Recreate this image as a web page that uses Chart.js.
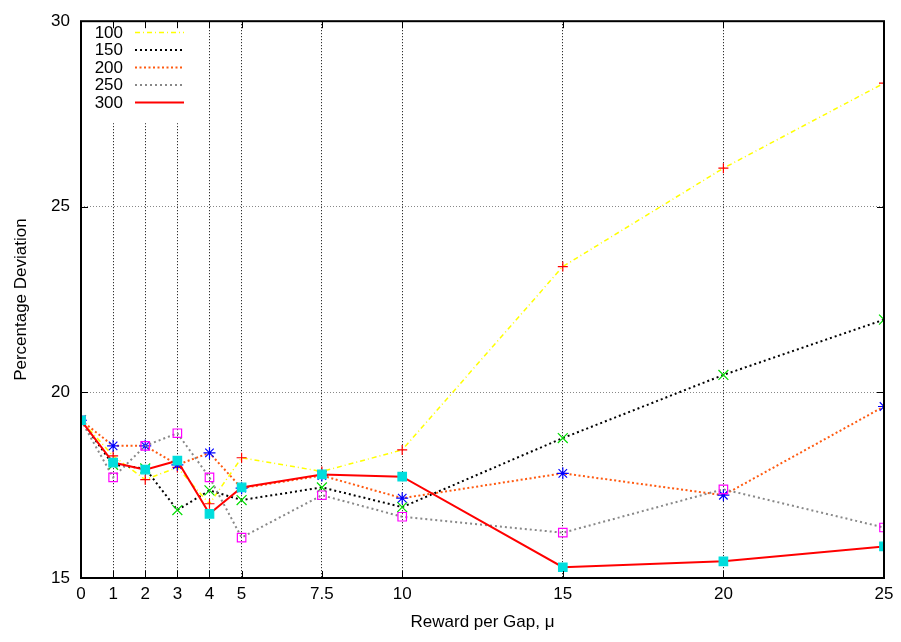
<!DOCTYPE html>
<html>
<head>
<meta charset="utf-8">
<script src="https://cdn.jsdelivr.net/npm/chart.js@4.4.1/dist/chart.umd.min.js"></script>
<style>
  html, body { margin: 0; padding: 0; background: #fff; }
  #wrap { width: 901px; height: 642px; }
</style>
</head>
<body>
<div id="wrap"><canvas id="myChart" width="901" height="642"></canvas></div>
<script>
// reward per gap values (x) and the deviation for each run size
const rewards = [0, 1, 2, 3, 4, 5, 7.5, 10, 15, 20, 25];
const seriesNames = ['100', '150', '200', '250', '300'];
const dev100 = [19.25, 18.29, 17.65, 17.98, 17.0, 18.24, 17.87, 18.45, 23.39, 26.04, 28.33];
const dev150 = [19.25, 18.05, 17.95, 16.83, 17.36, 17.1, 17.44, 16.91, 18.77, 20.47, 21.96];
const dev200 = [19.25, 18.56, 18.56, 18.05, 18.37, 17.42, 17.76, 17.15, 17.82, 17.23, 19.62];
const dev250 = [19.25, 17.71, 18.56, 18.9, 17.71, 16.09, 17.23, 16.65, 16.22, 17.39, 16.36];
const dev300 = [19.25, 18.11, 17.92, 18.16, 16.73, 17.44, 17.79, 17.73, 15.29, 15.45, 15.85];
const yTicks = [15, 20, 25, 30];

const FONT = "'Liberation Sans', Arial, sans-serif";
const FONT_SIZE = 17;

const STYLES = [
    { line: '#ffff00', dash: [5, 3, 1, 3], width: 1.5, point: 'cross', pointColor: '#ff0000', radius: 5, fill: false },
    { line: '#000000', dash: [2, 3], width: 2, point: 'crossRot', pointColor: '#00dd00', radius: 7, fill: false },
    { line: '#ff5a10', dash: [2, 2.5], width: 2, point: 'star', pointColor: '#0000ff', radius: 6, fill: false },
    { line: '#888888', dash: [2, 3], width: 2, point: 'rect', pointColor: '#ff00ff', radius: 6, fill: false },
    { line: '#ff0000', dash: [], width: 2, point: 'rect', pointColor: '#00dddd', radius: 6, fill: true },
];

const allSeries = [dev100, dev150, dev200, dev250, dev300];

const datasets = allSeries.map((vals, i) => {
    const s = STYLES[i];
    return {
        label: seriesNames[i],
        data: rewards.map((x, j) => ({ x: x, y: vals[j] })),
        showLine: true,
        borderColor: s.line,
        borderDash: s.dash,
        borderWidth: s.width,
        pointStyle: s.point,
        pointRadius: s.radius,
        pointBorderColor: s.pointColor,
        pointBackgroundColor: s.fill ? s.pointColor : 'rgba(0,0,0,0)',
        pointBorderWidth: 1.2,
        order: allSeries.length - i,
        tension: 0
    };
});

// key (on a blank patch), inward tick marks and the box
const framePlugin = {
    id: 'frame',
    afterDatasetsDraw(chart) {
        const { ctx, chartArea: a, scales } = chart;
        ctx.save();

        ctx.fillStyle = '#fff';
        ctx.fillRect(a.left + 5, a.top + 3, 110, 99);

        ctx.font = FONT_SIZE + 'px ' + FONT;
        ctx.textAlign = 'right';
        ctx.textBaseline = 'middle';
        seriesNames.forEach((name, i) => {
            const y = 32 + i * 17.5;
            ctx.fillStyle = '#000';
            ctx.fillText(name, 123, y + 1);
            const s = STYLES[i];
            ctx.strokeStyle = s.line;
            ctx.lineWidth = s.width;
            ctx.setLineDash(s.dash);
            ctx.beginPath();
            ctx.moveTo(135, y + 0.5);
            ctx.lineTo(184, y + 0.5);
            ctx.stroke();
        });

        ctx.strokeStyle = '#000';
        ctx.lineWidth = 1;
        ctx.setLineDash([]);
        ctx.beginPath();
        rewards.forEach(v => {
            const px = Math.round(scales.x.getPixelForValue(v)) + 0.5;
            ctx.moveTo(px, a.bottom); ctx.lineTo(px, a.bottom - 7);
            ctx.moveTo(px, a.top); ctx.lineTo(px, a.top + 7);
        });
        yTicks.forEach(v => {
            const py = Math.round(scales.y.getPixelForValue(v)) + 0.5;
            ctx.moveTo(a.left, py); ctx.lineTo(a.left + 7, py);
            ctx.moveTo(a.right, py); ctx.lineTo(a.right - 7, py);
        });
        ctx.stroke();
        ctx.lineWidth = 2;
        ctx.strokeRect(a.left, a.top, a.right - a.left, a.bottom - a.top);
        ctx.restore();
    }
};

const ctx = document.getElementById('myChart').getContext('2d');

new Chart(ctx, {
    type: 'scatter',
    data: { datasets: datasets },
    plugins: [framePlugin],
    options: {
        responsive: false,
        animation: false,
        layout: { padding: { top: 13, right: 17, left: 0, bottom: 0 } },
        plugins: {
            legend: { display: false },
            tooltip: { enabled: false }
        },
        scales: {
            x: {
                type: 'linear',
                min: 0,
                max: 25,
                afterBuildTicks(scale) {
                    scale.ticks = rewards.map(v => ({ value: v }));
                },
                afterFit(scale) { scale.height = 64; },
                border: { display: false, dash: [1, 2] },
                grid: {
                    color: '#000',
                    lineWidth: 1,
                    drawTicks: false
                },
                ticks: {
                    autoSkip: false,
                    maxRotation: 0,
                    padding: 6,
                    color: '#000',
                    font: { family: FONT, size: FONT_SIZE },
                    callback: v => String(v)
                },
                title: {
                    display: true,
                    text: 'Reward per Gap, μ',
                    color: '#000',
                    font: { family: FONT, size: FONT_SIZE },
                    padding: { top: 4, bottom: 9 }
                }
            },
            y: {
                type: 'linear',
                min: 15,
                max: 30,
                afterBuildTicks(scale) {
                    scale.ticks = yTicks.map(v => ({ value: v }));
                },
                afterFit(scale) { scale.width = 81; },
                border: { display: false, dash: [1, 2] },
                grid: {
                    color: '#888',
                    lineWidth: 1,
                    drawTicks: false
                },
                ticks: {
                    padding: 11,
                    color: '#000',
                    font: { family: FONT, size: FONT_SIZE }
                },
                title: {
                    display: true,
                    text: 'Percentage Deviation',
                    color: '#000',
                    font: { family: FONT, size: FONT_SIZE },
                    padding: { top: 11, bottom: 4 }
                }
            }
        }
    }
});
</script>
</body>
</html>
